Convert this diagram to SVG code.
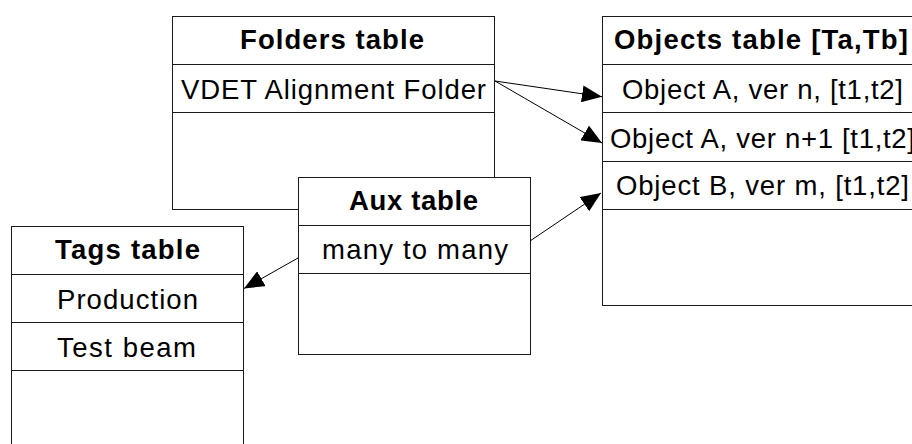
<svg xmlns="http://www.w3.org/2000/svg" width="912" height="444" viewBox="0 0 912 444">
<style>
.box{fill:#fff;stroke:#1a1a1a;stroke-width:1}
.sep{stroke:#1a1a1a;stroke-width:1}
.h{font-family:"Liberation Sans",Arial,sans-serif;font-size:27.5px;font-weight:bold;fill:#000}
.t{font-family:"Liberation Sans",Arial,sans-serif;font-size:27.5px;fill:#000}
.c{stroke:#000;stroke-width:1;fill:none;marker-end:url(#ah)}
</style>
<defs>
<marker id="ah" markerUnits="userSpaceOnUse" markerWidth="20" markerHeight="17" refX="20" refY="8.5" orient="auto" viewBox="0 0 20 17">
<path d="M0,0 L20,8.5 L0,17 z" fill="#000"/>
</marker>
</defs>
<rect width="912" height="444" fill="#fff"/>
<g id="folders">
<rect class="box" x="172.5" y="16.5" width="322" height="193"/>
<line class="sep" x1="172.5" y1="64.5" x2="494.5" y2="64.5"/>
<line class="sep" x1="172.5" y1="112.5" x2="494.5" y2="112.5"/>
<text class="h" x="240" y="49" textLength="184" lengthAdjust="spacing">Folders table</text>
<text class="t" x="181" y="99" textLength="305" lengthAdjust="spacing">VDET Alignment Folder</text>
</g>
<g id="objects">
<rect class="box" x="602.5" y="16.5" width="320" height="289"/>
<line class="sep" x1="602.5" y1="64.5" x2="922.5" y2="64.5"/>
<line class="sep" x1="602.5" y1="112.5" x2="922.5" y2="112.5"/>
<line class="sep" x1="602.5" y1="161.5" x2="922.5" y2="161.5"/>
<line class="sep" x1="602.5" y1="209.5" x2="922.5" y2="209.5"/>
<text class="h" x="614" y="49" textLength="294" lengthAdjust="spacing">Objects table [Ta,Tb]</text>
<text class="t" x="622" y="99" textLength="281" lengthAdjust="spacing">Object A, ver n, [t1,t2]</text>
<text class="t" x="610" y="148" textLength="305" lengthAdjust="spacing">Object A, ver n+1 [t1,t2]</text>
<text class="t" x="616" y="195" textLength="293" lengthAdjust="spacing">Object B, ver m, [t1,t2]</text>
</g>
<g id="aux">
<rect class="box" x="298.5" y="177.5" width="232" height="177"/>
<line class="sep" x1="298.5" y1="225.5" x2="530.5" y2="225.5"/>
<line class="sep" x1="298.5" y1="273.5" x2="530.5" y2="273.5"/>
<text class="h" x="349" y="210" textLength="129" lengthAdjust="spacing">Aux table</text>
<text class="t" x="322" y="259" textLength="186" lengthAdjust="spacing">many to many</text>
</g>
<g id="tags">
<rect class="box" x="11.5" y="226.5" width="232" height="240"/>
<line class="sep" x1="11.5" y1="274.5" x2="243.5" y2="274.5"/>
<line class="sep" x1="11.5" y1="322.5" x2="243.5" y2="322.5"/>
<line class="sep" x1="11.5" y1="370.5" x2="243.5" y2="370.5"/>
<text class="h" x="55" y="259" textLength="145" lengthAdjust="spacing">Tags table</text>
<text class="t" x="57" y="309" textLength="141" lengthAdjust="spacing">Production</text>
<text class="t" x="57" y="357" textLength="139" lengthAdjust="spacing">Test beam</text>
</g>
<g id="connectors">
<line class="c" x1="495" y1="81" x2="602" y2="96.7"/>
<line class="c" x1="495" y1="81" x2="602" y2="143"/>
<line class="c" x1="530" y1="241" x2="601" y2="193"/>
<line class="c" x1="298" y1="258" x2="244" y2="288.5"/>
</g>
</svg>
